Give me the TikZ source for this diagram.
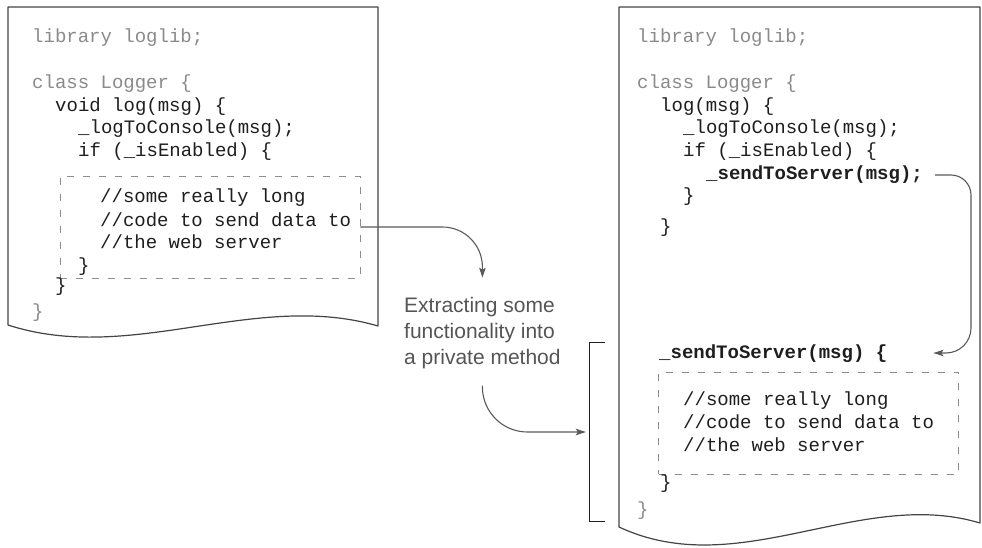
\documentclass[tikz,border=0pt]{standalone}
\usepackage{fontspec}
\setmonofont{Liberation Mono}
\setsansfont{Liberation Sans}
\usetikzlibrary{arrows.meta}
\definecolor{codeblk}{HTML}{1E1E1E}
\definecolor{codegray}{HTML}{8A8A8A}
\definecolor{labelgray}{HTML}{555555}
\definecolor{linegray}{HTML}{444444}
\definecolor{arrgray}{HTML}{5A5A5A}
\definecolor{dashgray}{HTML}{8C8C8C}
\begin{document}
\begin{tikzpicture}[x=1pt,y=-1pt,
  code/.style={font=\ttfamily\fontsize{19}{23}\selectfont, text=codeblk, inner sep=0pt, anchor=base west, text height=14pt, text depth=4pt},
  codeg/.style={code, text=codegray},
  codeb/.style={code, font=\ttfamily\bfseries\fontsize{19}{23}\selectfont},
  dbox/.style={draw=dashgray, line width=0.9pt, dash pattern=on 7pt off 9pt, minimum width=300pt, minimum height=102pt, inner sep=0pt},
  doc/.style={draw=linegray, line width=1.2pt, line join=round},
  arr/.style={draw=arrgray, line width=1.1pt, -{Stealth[length=10pt,width=6.5pt,inset=2pt]}},
  brkline/.style={draw=codeblk, line width=1.2pt}
]
\useasboundingbox (0,0) rectangle (982,548);

% documents
\draw[doc] (8,7) -- (378,7) -- (378,326) .. controls (255,290) and (131,365) .. (8,325) -- cycle;
\draw[doc] (619,7) -- (980,7) -- (980,523) .. controls (860,487) and (739,583) .. (619,527) -- cycle;

% left code
\node[codeg] (l1) at (32,43) {library loglib;};
\node[codeg] (l2) at (32,89) {class Logger \{};
\node[code] (l3) at (55,112) {void log(msg) \{};
\node[code] (l4) at (78,134) {\_logToConsole(msg);};
\node[code] (l5) at (78,157) {if (\_isEnabled) \{};
\node[dbox] (lbox) at (210,227) {};
\node[code] (l6) at (100,203) {//some really long};
\node[code] (l7) at (100,226) {//code to send data to};
\node[code] (l8) at (100,248) {//the web server};
\node[code] (l9) at (78,271) {\}};
\node[code] (l10) at (55,291) {\}};
\node[codeg] (l11) at (32,317) {\}};

% right code
\node[codeg] (r1) at (637,43) {library loglib;};
\node[codeg] (r2) at (637,89) {class Logger \{};
\node[code] (r3) at (660,112) {log(msg) \{};
\node[code] (r4) at (683,134) {\_logToConsole(msg);};
\node[code] (r5) at (683,157) {if (\_isEnabled) \{};
\node[codeb] (send1) at (706,180) {\_sendToServer(msg);};
\node[code] (r7) at (683,202) {\}};
\node[code] (r8) at (660,233) {\}};
\node[codeb] (send2) at (659,358) {\_sendToServer(msg) \{};
\node[dbox] (rbox) at (808.5,423) {};
\node[code] (r10) at (683,405) {//some really long};
\node[code] (r11) at (683,428) {//code to send data to};
\node[code] (r12) at (683,451) {//the web server};
\node[code] (r13) at (660,488) {\}};
\node[codeg] (r14) at (637,515) {\}};

% label
\node[font=\sffamily\fontsize{21}{26}\selectfont, text=labelgray, align=left, inner sep=0pt, anchor=west] (label) at (404,332.7) {Extracting some\\functionality into\\a private method};

% bracket
\node[inner sep=0pt, minimum width=15pt, minimum height=178pt] (brk) at (597.5,432) {};
\draw[brkline] (brk.north east) -- (brk.north west) -- (brk.south west) -- (brk.south east);

% arrows
\coordinate (c3) at (971,260);
\draw[arr, rounded corners=40pt] (lbox.east) -| ([yshift=19pt]label.north);
\draw[arr, rounded corners=45pt, shorten >=4pt] ([yshift=-17pt]label.south) |- (brk.west);
\draw[arr, rounded corners=20pt] ([xshift=12pt]send1.east) -| (c3) [rounded corners=25pt] |- ([xshift=46pt]send2.east);
\end{tikzpicture}
\end{document}
